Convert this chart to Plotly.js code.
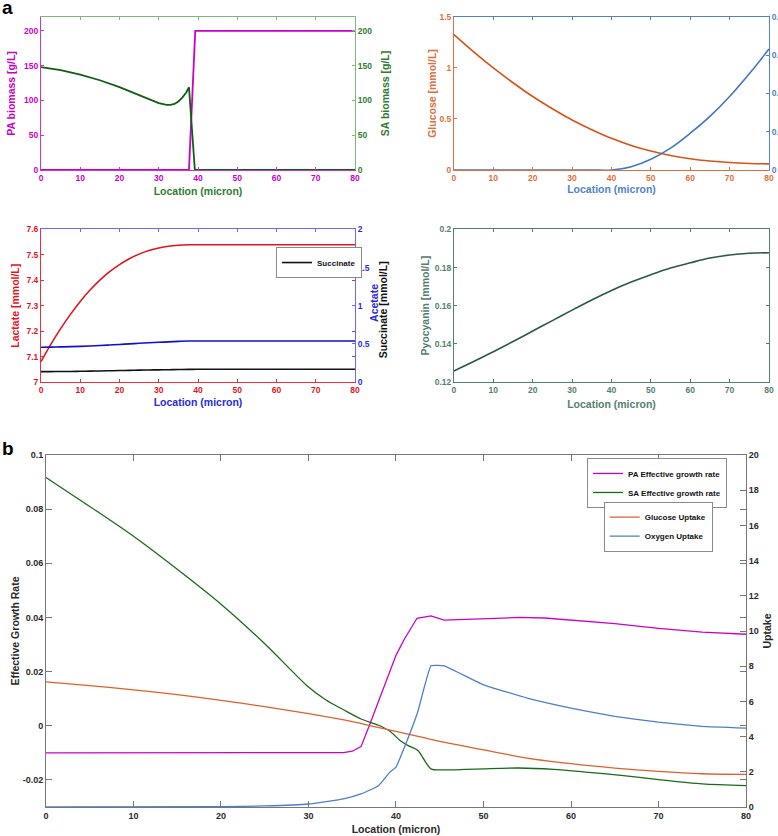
<!DOCTYPE html>
<html><head><meta charset="utf-8">
<script src="https://cdn.plot.ly/plotly-3.0.1.min.js"></script>
<style>html,body{margin:0;padding:0;background:#fff;}#chart{width:778px;height:836px;}</style>
</head><body><div id="chart"></div>
<script>
// ---------------- data ----------------
// panel a1: biomass
const locPA = [0, 37.7, 39.3, 80];
const paBiomass = [0, 0, 200, 200];
const locSA = [0,5,10,15,20,25,28,30,32,33,34,35,36,37,37.7,39.2,40,50,60,70,80];
const saBiomass = [148,143.5,137,129,119,107.5,100,96,93.5,93.5,95,98.5,104,111.5,119,0,0,0,0,0,0];
// panel a2: glucose / oxygen
const locA2 = [0,5,10,15,20,25,30,35,40,45,50,55,60,65,70,75,80];
const glucose = [1.327,1.158,1.0,0.855,0.72,0.6,0.49,0.395,0.31,0.24,0.185,0.142,0.11,0.088,0.073,0.064,0.06];
const oxygen = [0,0,0,0,0,0,0,0,0,0.0017,0.0056,0.0114,0.0192,0.028,0.0384,0.0503,0.0632];
const oxygenTicks = [0,0.02,0.04,0.06,0.08];
// panel a3: lactate / acetate / succinate
const locA3 = [0,2.5,5,7.5,10,12.5,15,17.5,20,22.5,25,27.5,30,32.5,35,37.5,40,50,60,70,80];
const lactate = [7.08,7.148,7.21,7.266,7.317,7.362,7.401,7.434,7.462,7.485,7.503,7.517,7.527,7.534,7.538,7.54,7.54,7.54,7.54,7.54,7.54];
const acetate = [0.455,0.457,0.46,0.463,0.467,0.472,0.478,0.485,0.492,0.5,0.507,0.514,0.52,0.526,0.532,0.537,0.538,0.538,0.538,0.538,0.538];
const succinate = [0.135,0.136,0.137,0.138,0.14,0.142,0.144,0.147,0.15,0.152,0.155,0.157,0.159,0.161,0.163,0.165,0.166,0.167,0.167,0.167,0.167];
// panel a4: pyocyanin
const pyocyanin = [0.1258,0.1307,0.1359,0.1412,0.1467,0.1522,0.1577,0.163,0.168,0.1724,0.1763,0.1798,0.1825,0.185,0.1866,0.1875,0.1878];
// panel b
const locBpa = [0,10,20,30,34,35,36,37,38,39,39.35,40,40.9,42.4,44,45.5,48,51,54,57,60,65,70,75,80];
const paRate = [-0.01,-0.01,-0.01,-0.01,-0.0099,-0.0094,-0.0077,0.0005,0.009,0.0178,0.021,0.026,0.0317,0.0397,0.0406,0.039,0.0393,0.0397,0.04,0.0398,0.0391,0.0377,0.036,0.0346,0.0338];
const locBsa = [0,5,10,15,20,25,30,32,34,36,38,39.3,40.5,41.5,42.5,44,45.5,48,50,54,58,62,66,70,75,80];
const saRate = [0.0917,0.081,0.070,0.0578,0.0449,0.0303,0.0143,0.0095,0.0059,0.0025,0.0002,-0.002,-0.0055,-0.0075,-0.0091,-0.0159,-0.0163,-0.0161,-0.0159,-0.0156,-0.0161,-0.0172,-0.0184,-0.0199,-0.0215,-0.0221];
const locBg = [0,5,10,15,20,25,30,35,37,40,45,50,55,60,65,70,75,80];
const glcUptake = [7.11,6.9,6.66,6.38,6.06,5.7,5.3,4.85,4.63,4.3,3.73,3.25,2.78,2.46,2.21,2.02,1.89,1.85];
const locBo = [0,20,25,30,34,36,38,39.3,40,41,42.5,44,45.5,50,55,60,65,70,75,80];
const o2Uptake = [0,0.02,0.06,0.17,0.46,0.74,1.21,1.98,2.27,3.44,5.43,8.02,8.02,6.94,6.19,5.62,5.15,4.82,4.58,4.48];
const rateTicks = [-0.02,0,0.02,0.04,0.06,0.08,0.1];
const rateTickText = ['-0.02','0','0.02','0.04','0.06','0.08','0.1'];

// ---------------- styles ----------------
const F = 'Liberation Sans, Arial, sans-serif';
const C = {
  mag:'#c800c8', magAx:'#cc33cc', grn:'#0f5f12', grnAx:'#2f7d2f', grnLine:'#7fb87f',
  org:'#d95319', orgAx:'#e0703c', blu:'#3f78c2', bluAx:'#4f84c6',
  red:'#e3141e', redAx:'#e8303a', blu2:'#1010d0', blu2Ax:'#2a2ae0',
  pyo:'#2b5848', pyoAx:'#52806f', grayTxt:'#2a2a2a'
};
function ax(o){
  const a = {showgrid:false, zeroline:false, showline:true, linewidth:1, ticks:'inside', ticklen:3, tickwidth:1,
    linecolor:o.col, tickcolor:o.col, tickfont:{family:F,size:o.fs||8.5,weight:'bold',color:o.txt||o.col}};
  for (const k in o) if(!['col','txt','tt','fs'].includes(k)) a[k]=o[k];
  if(o.tt) a.title = {text:o.tt.t, font:{family:F,size:o.tt.z||10.5,weight:'bold',color:o.tt.c}, standoff:o.tt.s};
  return a;
}
const dA1x=[0.0527,0.4563], dA2x=[0.5835,0.9884], dTopy=[0.7967,0.9797], dMidy=[0.5431,0.7255], dBx=[0.0591,0.9589], dBy=[0.0347,0.4557];
const smooth = {shape:'spline', smoothing:1};

const traces = [
  {x:locPA, y:paBiomass, xaxis:'x', yaxis:'y', mode:'lines', line:{color:C.mag,width:1.8}, showlegend:false},
  {x:locSA, y:saBiomass, xaxis:'x', yaxis:'y2', mode:'lines', line:{color:C.grn,width:1.8}, showlegend:false},
  {x:locA2, y:glucose, xaxis:'x2', yaxis:'y3', mode:'lines', line:Object.assign({color:C.org,width:1.6},smooth), showlegend:false},
  {x:locA2, y:oxygen, xaxis:'x2', yaxis:'y4', mode:'lines', line:Object.assign({color:C.blu,width:1.6},smooth), showlegend:false},
  {x:locA3, y:lactate, xaxis:'x3', yaxis:'y5', mode:'lines', line:Object.assign({color:C.red,width:1.6},smooth), showlegend:false, name:'Lactate'},
  {x:locA3, y:acetate, xaxis:'x3', yaxis:'y6', mode:'lines', line:Object.assign({color:C.blu2,width:1.6},smooth), showlegend:false, name:'Acetate'},
  {x:locA3, y:succinate, xaxis:'x3', yaxis:'y6', mode:'lines', line:Object.assign({color:'#111',width:1.6},smooth), name:'Succinate', legend:'legend2'},
  {x:locA2, y:pyocyanin, xaxis:'x4', yaxis:'y7', mode:'lines', line:Object.assign({color:C.pyo,width:1.6},smooth), showlegend:false},
  {x:locBpa, y:paRate, xaxis:'x5', yaxis:'y8', mode:'lines', line:{color:'#cc00cc',width:1.3}, name:'PA Effective growth rate', legend:'legend3'},
  {x:locBsa, y:saRate, xaxis:'x5', yaxis:'y8', mode:'lines', line:{color:'#1a6a1a',width:1.3,shape:'spline',smoothing:0.8}, name:'SA Effective growth rate', legend:'legend3'},
  {x:locBg, y:glcUptake, xaxis:'x5', yaxis:'y9', mode:'lines', line:{color:'#e0602a',width:1.3,shape:'spline',smoothing:0.8}, name:'Glucose Uptake', legend:'legend4'},
  {x:locBo, y:o2Uptake, xaxis:'x5', yaxis:'y9', mode:'lines', line:{color:'#4a80c8',width:1.3,shape:'spline',smoothing:0.3}, name:'Oxygen Uptake', legend:'legend4'},
  // empty traces that anchor the coloured top-border axes
  {x:[], y:[], xaxis:'x6', yaxis:'y', showlegend:false},
  {x:[], y:[], xaxis:'x7', yaxis:'y3', showlegend:false},
  {x:[], y:[], xaxis:'x8', yaxis:'y5', showlegend:false}
];

const legStyle = {bgcolor:'#fff', bordercolor:'#8a8a8a', borderwidth:1, font:{family:F,size:8,weight:'bold',color:'#111'},
  xanchor:'left', yanchor:'top', itemwidth:30, tracegroupgap:0};

const layout = {
  width:778, height:836, margin:{l:0,r:0,t:0,b:0}, paper_bgcolor:'#fff', plot_bgcolor:'#fff',
  font:{family:F}, showlegend:true,
  // panel a1
  xaxis: ax({domain:dA1x, anchor:'y', range:[0,80], dtick:10, col:C.magAx, txt:C.mag, tt:{t:'Location (micron)', c:C.grnAx, s:5}}),
  xaxis6: ax({overlaying:'x', side:'top', anchor:'y', range:[0,80], dtick:10, col:C.grnLine, showticklabels:false}),
  yaxis: ax({domain:dTopy, anchor:'x', range:[0,220], tickvals:[0,50,100,150,200], col:C.magAx, txt:C.mag, tt:{t:'PA biomass [g/L]', c:C.mag, s:6}}),
  yaxis2: ax({overlaying:'y', side:'right', anchor:'x', range:[0,220], tickvals:[0,50,100,150,200], col:C.grnLine, txt:C.grnAx, tt:{t:'SA biomass [g/L]', c:C.grnAx, s:10}}),
  // panel a2
  xaxis2: ax({domain:dA2x, anchor:'y3', range:[0,80], dtick:10, col:C.orgAx, txt:C.orgAx, tt:{t:'Location (micron)', c:C.bluAx, s:2}}),
  xaxis7: ax({overlaying:'x2', side:'top', anchor:'y3', range:[0,80], dtick:10, col:C.bluAx, showticklabels:false}),
  yaxis3: ax({domain:dTopy, anchor:'x2', range:[0,1.5], dtick:0.5, col:C.orgAx, txt:C.orgAx, tt:{t:'Glucose [mmol/L]', c:C.orgAx, s:0}}),
  yaxis4: ax({overlaying:'y3', side:'right', anchor:'x2', range:[0,0.08], tickvals:oxygenTicks, col:C.bluAx, txt:C.bluAx}),
  // panel a3
  xaxis3: ax({domain:dA1x, anchor:'y5', range:[0,80], dtick:10, col:C.redAx, txt:C.red, tt:{t:'Location (micron)', c:C.blu2Ax, s:4}}),
  xaxis8: ax({overlaying:'x3', side:'top', anchor:'y5', range:[0,80], dtick:10, col:'#6a6af0', showticklabels:false}),
  yaxis5: ax({domain:dMidy, anchor:'x3', range:[7,7.6], dtick:0.1, col:C.redAx, txt:C.red, mirror:'ticks', tt:{t:'Lactate [mmol/L]', c:C.red, s:4}}),
  yaxis6: ax({overlaying:'y5', side:'right', anchor:'x3', range:[0,2], dtick:0.5, col:'#6a6af0', txt:C.blu2Ax}),
  // panel a4
  xaxis4: ax({domain:dA2x, anchor:'y7', range:[0,80], dtick:10, col:C.pyoAx, mirror:'ticks', tt:{t:'Location (micron)', c:C.pyoAx, s:6}}),
  yaxis7: ax({domain:dMidy, anchor:'x4', range:[0.12,0.2], dtick:0.02, col:C.pyoAx, mirror:'ticks', tt:{t:'Pyocyanin [mmol/L]', c:C.pyoAx, s:3}}),
  // panel b
  xaxis5: ax({domain:dBx, anchor:'y8', range:[0,80], dtick:10, col:'#777', txt:C.grayTxt, ticklen:6, fs:9, mirror:'ticks', tt:{t:'Location (micron)', c:C.grayTxt, s:5}}),
  yaxis8: ax({domain:dBy, anchor:'x5', range:[-0.03,0.1], tickvals:rateTicks, ticktext:rateTickText, col:'#777', txt:C.grayTxt, ticklen:6, fs:9, mirror:'ticks', tt:{t:'Effective Growth Rate', c:C.grayTxt, s:0}}),
  yaxis9: ax({overlaying:'y8', side:'right', anchor:'x5', range:[0,20], dtick:2, col:'#777', txt:C.grayTxt, ticklen:6, fs:9, tt:{t:'Uptake', c:C.grayTxt, s:5}}),
  legend2: Object.assign({}, legStyle, {x:0.3548, y:0.7045}),
  legend3: Object.assign({}, legStyle, {x:0.7545, y:0.4522}),
  legend4: Object.assign({}, legStyle, {x:0.776, y:0.4}),
  annotations:[
    {text:'a', xref:'paper', yref:'paper', x:0, y:1.006, xanchor:'left', yanchor:'top', showarrow:false, font:{family:F,size:19,weight:'bold',color:'#000'}},
    {text:'b', xref:'paper', yref:'paper', x:0, y:0.478, xanchor:'left', yanchor:'top', showarrow:false, font:{family:F,size:19,weight:'bold',color:'#000'}},
    // two-colour right-axis title of the lactate panel
    {text:'Acetate', xref:'paper', yref:'paper', x:0.4807, y:0.6376, xanchor:'center', yanchor:'middle', textangle:-90, showarrow:false, font:{family:F,size:10.5,weight:'bold',color:C.blu2Ax}},
    {text:'Succinate [mmol/L]', xref:'paper', yref:'paper', x:0.4925, y:0.6292, xanchor:'center', yanchor:'middle', textangle:-90, showarrow:false, font:{family:F,size:10.5,weight:'bold',color:'#111'}}
  ]
};
Plotly.newPlot('chart', traces, layout, {staticPlot:true, displayModeBar:false});
</script></body></html>
